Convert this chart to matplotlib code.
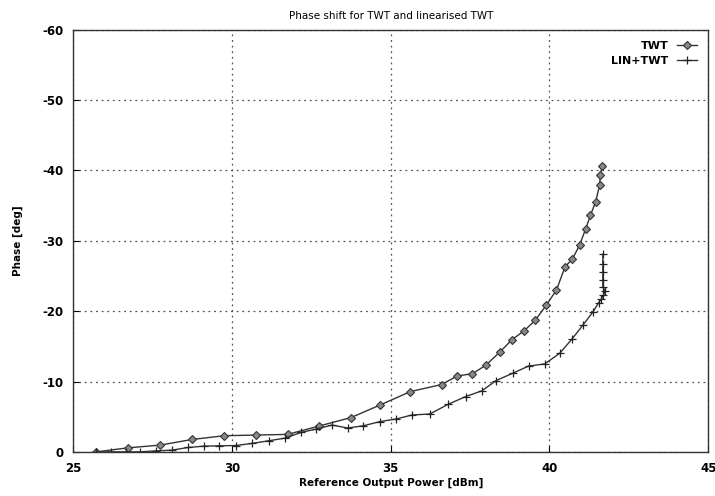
import matplotlib.pyplot as plt

plt.rcParams['axes.unicode_minus'] = False

# TWT (diamonds)
twt_x = [25.73, 26.72, 27.74, 28.74, 29.75, 30.75, 31.75, 32.74, 33.74, 34.67, 35.62,
         36.6, 37.1, 37.57, 37.99, 38.44, 38.82, 39.2, 39.55, 39.9, 40.22, 40.49, 40.72,
         40.95, 41.14, 41.29, 41.45, 41.58, 41.6, 41.67]
twt_y = [0, -0.57, -0.96, -1.76, -2.29, -2.39, -2.48, -3.67, -4.86, -6.67, -8.57,
         -9.57, -10.8, -11.1, -12.3, -14.2, -15.96, -17.2, -18.7, -20.86, -23.0, -26.3, -27.4,
         -29.4, -31.7, -33.6, -35.5, -37.9, -39.4, -40.7]

# LIN+TWT (plus)
lin_x = [25.73, 26.2, 26.65, 27.1, 27.62, 28.1, 28.62, 29.11, 29.6, 30.11, 30.62, 31.15,
         31.68, 32.17, 32.65, 33.15, 33.64, 34.14, 34.65, 35.17, 35.67, 36.23, 36.81, 37.36,
         37.87, 38.32, 38.85, 39.34, 39.85, 40.32, 40.72, 41.05, 41.37, 41.55, 41.63, 41.7,
         41.75, 41.68, 41.68, 41.68, 41.68, 41.68]
lin_y = [0, 0, 0, 0, -0.14, -0.24, -0.62, -0.81, -0.86, -0.9, -1.19, -1.57,
         -1.96, -2.76, -3.24, -3.81, -3.39, -3.71, -4.29, -4.67, -5.24, -5.38, -6.76, -7.86,
         -8.67, -10.14, -11.19, -12.19, -12.5, -14.0, -16.1, -18.0, -19.9, -21.2, -21.7, -22.3,
         -22.8, -23.5, -24.5, -25.6, -26.7, -28.1]

fig = plt.figure(figsize=(7.15, 4.96), dpi=100)
ax = fig.add_axes([0.1025, 0.089, 0.888, 0.851])

ax.plot(twt_x, twt_y, color='#333333', lw=1.0, marker='D', ms=3.8,
        mfc='#888888', mec='#333333', mew=0.8, label='TWT')
ax.plot(lin_x, lin_y, color='#333333', lw=1.0, marker='+', ms=6,
        mec='#222222', mew=0.9, label='LIN+TWT')

ax.set_xlim(25, 45)
ax.set_ylim(0, -60)
ax.set_xticks([25, 30, 35, 40, 45])
ax.set_yticks([0, -10, -20, -30, -40, -50, -60])
ax.grid(True, linestyle=(0, (1.5, 3)), color='#555555', lw=0.9)
ax.tick_params(direction='in', length=4, labelsize=8.5, pad=7)
for lbl in ax.get_xticklabels() + ax.get_yticklabels():
    lbl.set_fontweight('bold')
for s in ax.spines.values():
    s.set_linewidth(1.0)
    s.set_color('#333333')

ax.set_title('Phase shift for TWT and linearised TWT', fontsize=7.5, pad=8)
ax.set_xlabel('Reference Output Power [dBm]', fontsize=7.5, fontweight='bold', labelpad=2)
ax.set_ylabel('Phase [deg]', fontsize=7.5, fontweight='bold', labelpad=14)

ax.legend(loc='upper right', frameon=False, markerfirst=False,
          prop={'weight': 'bold', 'size': 8}, handlelength=1.8, borderaxespad=0.6,
          labelspacing=0.45)

fig.savefig('out.png', dpi=100)
